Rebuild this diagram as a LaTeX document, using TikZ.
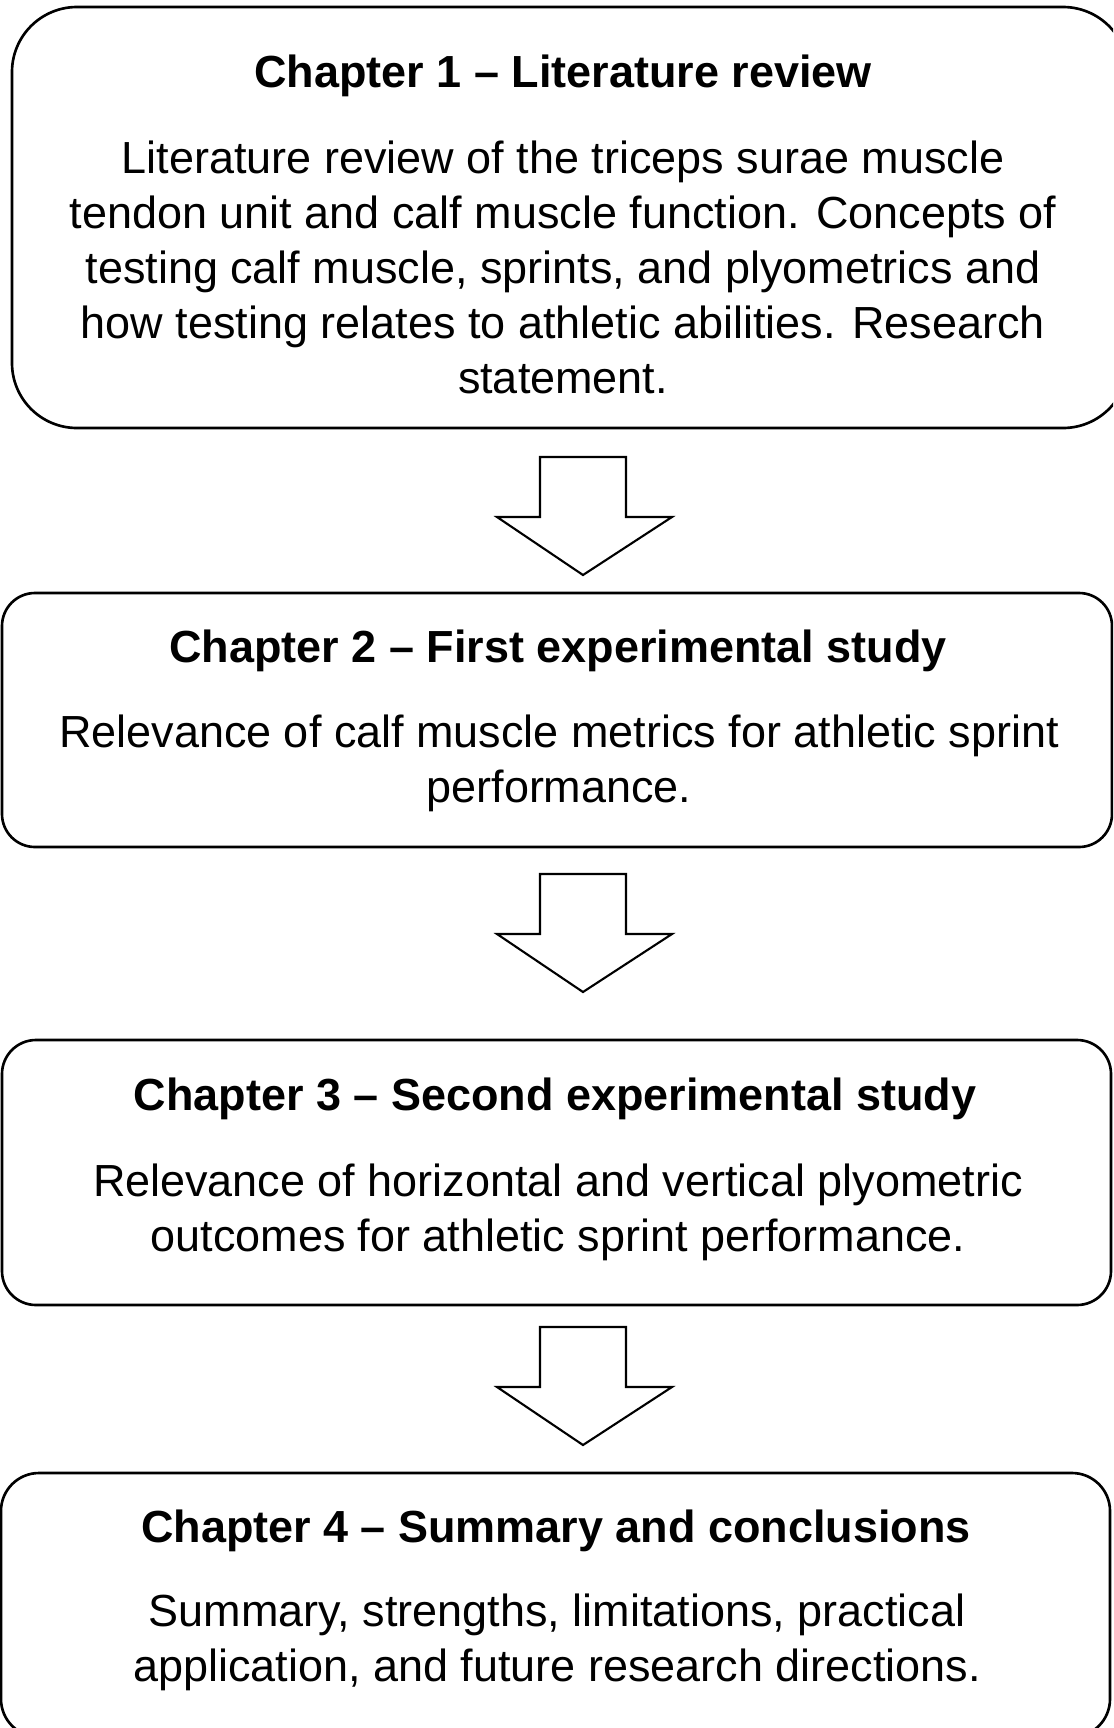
\documentclass[tikz,border=0pt]{standalone}
\usepackage{fontspec}
\setmainfont{Liberation Sans}
\usetikzlibrary{positioning}

\tikzset{
  chapbox/.style={line width=1.5pt},
  blockarrow/.style={line width=1.2pt, line join=miter, fill=white},
  heading/.style={font=\fontsize{25.6pt}{31.3pt}\selectfont\bfseries, anchor=base, inner sep=0pt},
  summary/.style={font=\fontsize{25.6pt}{31.3pt}\selectfont, align=center, anchor=base, inner sep=0pt}
}

\begin{document}
\begin{tikzpicture}[x=0.02cm, y=-0.02cm]
    \useasboundingbox (0,0) rectangle (1113,1728);
    \clip (0,0) rectangle (1113,1728);

    % Chapter boxes
    \draw[chapbox, rounded corners=1.3cm] (12,7) rectangle (1128,428);
    \draw[chapbox, rounded corners=0.66cm] (2,593) rectangle (1112,847);
    \draw[chapbox, rounded corners=0.68cm] (2,1040) rectangle (1111,1305);
    \draw[chapbox, rounded corners=0.76cm] (1,1473) rectangle (1110,1737);

    % Chapter 1 (summary nodes sit on their last baseline)
    \node[heading] (title1) at (563,87) {Chapter 1 – Literature review};
    \node[summary] (text1) at (563,393) {Literature review of the triceps surae muscle\\
        tendon unit and calf muscle function. Concepts of\\
        testing calf muscle, sprints, and plyometrics and\\
        how testing relates to athletic abilities. Research\\
        statement.};

    % Chapter 2
    \node[heading] (title2) at (558,662) {Chapter 2 – First experimental study};
    \node[summary] (text2) at (559,802) {Relevance of calf muscle metrics for athletic sprint\\
        performance.};

    % Chapter 3
    \node[heading] (title3) at (555,1110) {Chapter 3 – Second experimental study};
    \node[summary] (text3) at (558,1251) {Relevance of horizontal and vertical plyometric\\
        outcomes for athletic sprint performance.};

    % Chapter 4
    \node[heading] (title4) at (556,1542) {Chapter 4 – Summary and conclusions};
    \node[summary] (text4) at (557,1681) {Summary, strengths, limitations, practical\\
        application, and future research directions.};

    % Block arrows between chapters
    \foreach \t in {457,874,1327}
        \draw[blockarrow] (540,\t) -- (626,\t) -- (626,\t+60) -- (672,\t+60)
            -- (583,\t+118) -- (497,\t+60) -- (540,\t+60) -- cycle;
\end{tikzpicture}
\end{document}
